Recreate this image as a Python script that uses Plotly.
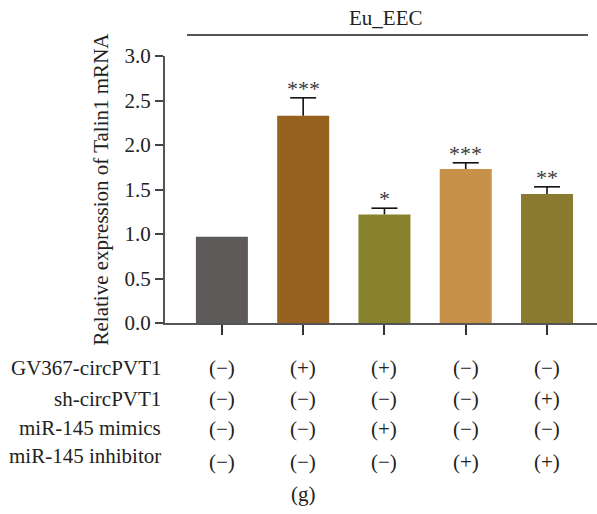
import plotly.graph_objects as go

groups = ["G1", "G2", "G3", "G4", "G5"]
values = [0.97, 2.33, 1.22, 1.73, 1.45]
err_up = [0.0, 0.20, 0.07, 0.07, 0.08]
stars = ["", "***", "*", "***", "**"]
colors = ["#5e5a59", "#97621f", "#87822b", "#c7914a", "#8a7b30"]
row_labels = ["GV367-circPVT1", "sh-circPVT1", "miR-145 mimics", "miR-145 inhibitor"]
row_signs = [
    ["(−)", "(+)", "(+)", "(−)", "(−)"],
    ["(−)", "(−)", "(−)", "(−)", "(+)"],
    ["(−)", "(−)", "(+)", "(−)", "(−)"],
    ["(−)", "(−)", "(−)", "(+)", "(+)"],
]
y_ticks = [0.0, 0.5, 1.0, 1.5, 2.0, 2.5, 3.0]

FONT = "Liberation Serif"
TXT = "#222222"
xs = list(range(len(groups)))
XR = [-0.70, 4.615]
YR = [0.0, 3.0]


def xp(x):
    return (x - XR[0]) / (XR[1] - XR[0])


def yp(y):
    return (y - YR[0]) / (YR[1] - YR[0])


fig = go.Figure()
fig.add_trace(go.Bar(
    x=xs, y=values, width=0.64,
    marker=dict(color=colors, line=dict(width=0)),
    showlegend=False,
))

# error bars (upper only) built from the data
ex, ey = [], []
cap = 0.16
for i, (v, e) in enumerate(zip(values, err_up)):
    if e > 0:
        ex += [i, i, None, i - cap, i + cap, None]
        ey += [v, v + e, None, v + e, v + e, None]
fig.add_trace(go.Scatter(x=ex, y=ey, mode="lines",
                         line=dict(color="#111111", width=1.6),
                         hoverinfo="skip", showlegend=False))

annotations = []
for i, (v, e, s) in enumerate(zip(values, err_up, stars)):
    if s:
        annotations.append(dict(x=i, y=v + e, xref="x", yref="y", text=s,
                                showarrow=False, yanchor="bottom", yshift=-5,
                                font=dict(family=FONT, size=22, color="#3a3a3a")))

label_y = [-0.50, -0.85, -1.18, -1.49]
sign_y = [-0.50, -0.85, -1.19, -1.56]
for r, (lab, signs) in enumerate(zip(row_labels, row_signs)):
    annotations.append(dict(x=xp(-0.0), y=yp(label_y[r]), xref="paper", yref="paper",
                            text=lab, showarrow=False, xanchor="right", yanchor="middle",
                            xshift=-222 + 163,
                            font=dict(family=FONT, size=21, color=TXT)))
    for i, sg in enumerate(signs):
        annotations.append(dict(x=xp(i), y=yp(sign_y[r]), xref="paper", yref="paper",
                                text=sg, showarrow=False, xanchor="center",
                                yanchor="middle",
                                font=dict(family=FONT, size=21, color=TXT)))
annotations.append(dict(x=xp(1), y=yp(-1.92), xref="paper", yref="paper", text="(g)",
                        showarrow=False, xanchor="center", yanchor="middle",
                        font=dict(family=FONT, size=21, color=TXT)))
annotations.append(dict(x=0.512, y=1.142, xref="paper", yref="paper", text="Eu_EEC",
                        showarrow=False, xanchor="center", yanchor="middle",
                        font=dict(family=FONT, size=21, color=TXT)))

fig.add_shape(type="line", xref="paper", yref="paper",
              x0=0.051, x1=0.979, y0=1.0787, y1=1.0787,
              line=dict(color="#555555", width=2))

fig.update_layout(
    width=597, height=514,
    margin=dict(l=165, r=0, t=56, b=191),
    plot_bgcolor="white", paper_bgcolor="white",
    font=dict(family=FONT, color=TXT),
    annotations=annotations,
    xaxis=dict(range=XR, tickvals=xs, ticktext=[""] * 5,
               showticklabels=False, ticks="outside", ticklen=10, tickwidth=1.6,
               tickcolor="#333333", showline=True, linecolor="#555555",
               linewidth=2, showgrid=False, zeroline=False),
    yaxis=dict(range=YR, tickvals=y_ticks,
               ticktext=[f"{t:.1f}" for t in y_ticks],
               ticks="outside", ticklen=8, tickwidth=1.6, tickcolor="#444444",
               showline=True, linecolor="#555555", linewidth=2,
               showgrid=False, zeroline=False,
               tickfont=dict(family=FONT, size=21, color=TXT),
               title=dict(text="Relative expression of Talin1 mRNA",
                          font=dict(family=FONT, size=21, color=TXT),
                          standoff=10)),
)

fig.write_html("out.html")
